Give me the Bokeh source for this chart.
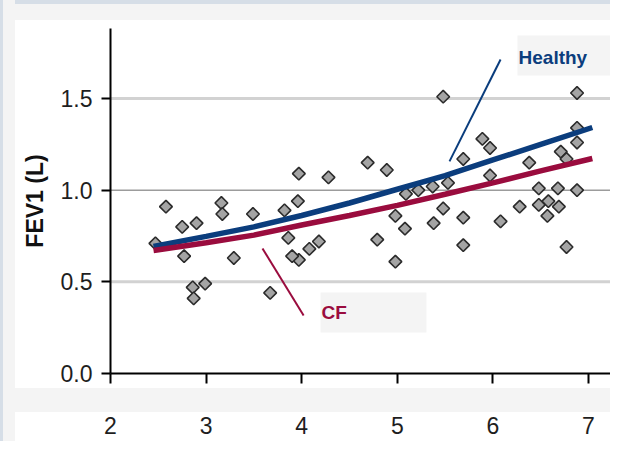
import numpy as np
from bokeh.plotting import figure
from bokeh.models import (Span, Label, BoxAnnotation, Range1d, FixedTicker,
                          Arrow, ColumnDataSource, CustomJSTickFormatter)
from bokeh.embed import file_html
from bokeh.resources import INLINE

# ---- data ----
age = [2.47, 2.58, 2.75, 2.90, 3.16, 3.17, 2.77, 3.29, 2.86, 2.99, 2.87,
       3.49, 3.97, 4.28, 3.96, 3.82, 3.86, 4.18, 4.08, 3.97, 3.90, 3.67,
       5.48, 4.69, 4.89, 5.89, 5.97, 5.69, 5.53, 5.37, 5.22, 5.09, 4.98,
       5.08, 4.79, 5.38, 5.48, 5.69, 5.69, 4.98, 6.88, 6.88, 6.88, 6.71,
       6.77, 6.38, 5.97, 6.48, 6.68, 6.88, 6.28, 6.48, 6.58, 6.69, 6.57,
       6.08, 6.77]
fev1 = [0.71, 0.91, 0.80, 0.82, 0.93, 0.87, 0.64, 0.63, 0.47, 0.49, 0.41,
        0.87, 1.09, 1.07, 0.94, 0.89, 0.74, 0.72, 0.68, 0.62, 0.64, 0.44,
        1.51, 1.15, 1.11, 1.28, 1.23, 1.17, 1.04, 1.02, 1.00, 0.98, 0.86,
        0.79, 0.73, 0.82, 0.90, 0.85, 0.70, 0.61, 1.53, 1.34, 1.26, 1.21,
        1.17, 1.15, 1.08, 1.01, 1.01, 1.00, 0.91, 0.92, 0.94, 0.91, 0.86,
        0.83, 0.69]

curve_age = [2.45, 3.0, 3.5, 4.0, 4.5, 5.0, 5.5, 6.0, 6.5, 7.04]
healthy_fit = [0.693, 0.748, 0.80, 0.862, 0.93, 1.005, 1.08, 1.165, 1.25, 1.342]
cf_fit = [0.671, 0.713, 0.755, 0.81, 0.862, 0.917, 0.978, 1.04, 1.105, 1.173]

x_ticks = [2, 3, 4, 5, 6, 7]
y_ticks = [0.0, 0.5, 1.0, 1.5]
y_label = "FEV1 (L)"
healthy_name = "Healthy"
cf_name = "CF"

NAVY = "#0b3d7d"
CRIMSON = "#9a0c3e"
FONT = "Liberation Sans"

panel_bg = ("linear-gradient(to right, #d6dee7 0px, #d6dee7 3px, #f4f4f4 3px, "
            "#f4f4f4 15px, rgba(255,255,255,0) 15px), "
            "linear-gradient(to bottom, #d6dee7 0px, #d6dee7 4px, #f4f4f4 4px, "
            "#f4f4f4 20px, #ffffff 20px, #ffffff 388px, #f4f4f4 388px, "
            "#f4f4f4 412px, #ffffff 412px)")

p = figure(width=610, height=441, output_backend="svg", toolbar_location=None,
           x_range=Range1d(2.0, 7.23), y_range=Range1d(0.0, 1.882),
           min_border_left=110, min_border_right=0, min_border_top=28,
           min_border_bottom=68, styles={"background": panel_bg})
p.border_fill_color = None
p.background_fill_color = "white"
p.outline_line_color = None
p.xgrid.visible = False
p.ygrid.visible = False

# horizontal reference lines
p.add_layout(Span(location=0.5, dimension="width", line_color="#d2d2d2", line_width=3, level="underlay"))
p.add_layout(Span(location=1.5, dimension="width", line_color="#d2d2d2", line_width=3, level="underlay"))
p.add_layout(Span(location=1.0, dimension="width", line_color="#9c9c9c", line_width=1.5, level="underlay"))

# axes
for ax in (p.xaxis[0], p.yaxis[0]):
    ax.axis_line_color = "black"
    ax.axis_line_width = 2
    ax.major_tick_line_color = "black"
    ax.major_tick_line_width = 2
    ax.major_tick_in = 0
    ax.minor_tick_line_color = None
    ax.major_label_text_font = FONT
    ax.major_label_text_font_size = "23px"
    ax.major_label_text_color = "#1e1e1e"

p.xaxis.ticker = FixedTicker(ticks=x_ticks)
p.xaxis.major_tick_out = 10
p.xaxis.major_label_standoff = 33
p.yaxis.ticker = FixedTicker(ticks=y_ticks)
p.yaxis.major_tick_out = 9
p.yaxis.major_label_standoff = 9
p.yaxis.formatter = CustomJSTickFormatter(code="return tick.toFixed(1)")
p.yaxis.axis_label = y_label
p.yaxis.axis_label_text_font = FONT
p.yaxis.axis_label_text_font_style = "bold"
p.yaxis.axis_label_text_font_size = "23px"
p.yaxis.axis_label_text_color = "#111111"
p.yaxis.axis_label_standoff = 10

# scatter points
src = ColumnDataSource(dict(age=age, fev1=fev1))
p.scatter("age", "fev1", source=src, marker="square", angle=np.pi / 4, size=9,
          fill_color="#a4a4a4", line_color="#2b2b2b", line_width=1.6)

# fitted curves
p.line(curve_age, healthy_fit, line_color=NAVY, line_width=5.5)
p.line(curve_age, cf_fit, line_color=CRIMSON, line_width=5.5)

# label boxes
p.add_layout(BoxAnnotation(left=6.257, right=7.4, bottom=1.626, top=1.844,
                           fill_color="#f4f4f4", fill_alpha=1.0, line_color=None))
p.add_layout(BoxAnnotation(left=4.197, right=5.305, bottom=0.224, top=0.442,
                           fill_color="#f4f4f4", fill_alpha=1.0, line_color=None))

p.add_layout(Label(x=6.268, y=1.724, text=healthy_name, text_font=FONT,
                   text_font_style="bold", text_font_size="19px",
                   text_color=NAVY, text_baseline="middle"))
p.add_layout(Label(x=4.207, y=0.333, text=cf_name, text_font=FONT,
                   text_font_style="bold", text_font_size="19px",
                   text_color=CRIMSON, text_baseline="middle"))

# leader lines
p.add_layout(Arrow(x_start=6.08, y_start=1.713, x_end=5.546, y_end=1.157,
                   start=None, end=None, line_color=NAVY, line_width=2))
p.add_layout(Arrow(x_start=3.59, y_start=0.682, x_end=4.02, y_end=0.316,
                   start=None, end=None, line_color=CRIMSON, line_width=2))

open("out.html", "w").write(file_html(p, INLINE))
